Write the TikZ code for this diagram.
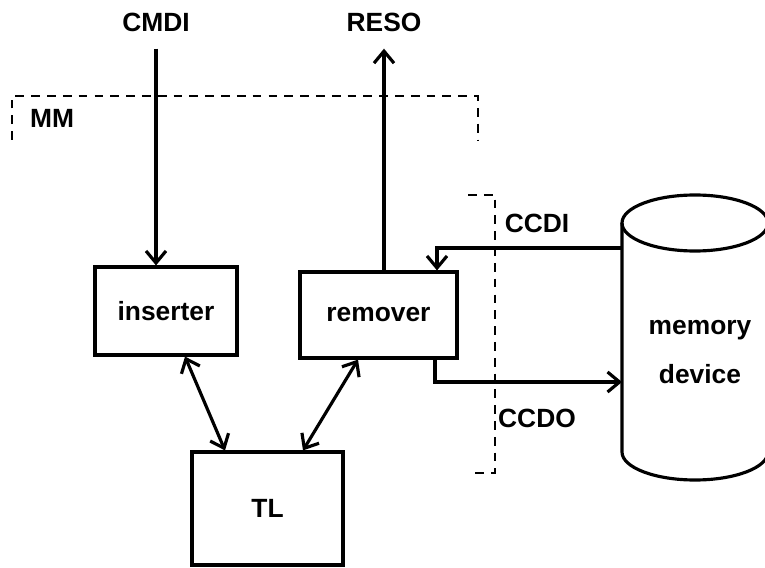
\documentclass[tikz,border=0pt]{standalone}
\usepackage{fontspec}
\setmainfont{Liberation Sans}
\usepackage{tikz}
\usetikzlibrary{arrows.meta, positioning, calc}

\begin{document}
\begin{tikzpicture}[
    font=\fontsize{15}{17}\selectfont\bfseries,
    block/.style={rectangle, draw=black, line width=1.8pt, align=center},
    label/.style={inner sep=2pt},
    line/.style={draw=black, line width=1.8pt, -{Straight Barb[length=2.4mm, width=4mm, line width=1.8pt]}},
    dline/.style={draw=black, line width=1.8pt, {Straight Barb[length=2.4mm, width=4mm, line width=1.8pt]}-{Straight Barb[length=2.4mm, width=4mm, line width=1.8pt]}},
    boundary/.style={draw=black, line width=1.5pt, dash pattern=on 5pt off 4pt}
]
    \useasboundingbox (0,0) rectangle (15.3,11.34);

    \node[block, minimum width=2.84cm, minimum height=1.76cm] (inserter) at (3.32,5.12) {inserter};
    \node[block, minimum width=3.14cm, minimum height=1.72cm] (remover) at (7.57,5.04) {remover};
    \node[block, minimum width=3.02cm, minimum height=2.26cm] (tl) at (5.35,1.17) {TL};

    \node[label] (cmdi) at (3.12,10.9) {CMDI};
    \node[label] (reso) at (7.68,10.9) {RESO};
    \node[label] (mm) at (1.04,8.98) {MM};
    \node[label] (ccdi) at (10.74,6.88) {CCDI};
    \node[label] (ccdo) at (10.74,2.98) {CCDO};

    % memory device
    \coordinate (cyltop) at (13.9,6.88);
    \coordinate (cylbot) at (13.9,2.30);
    \draw[line width=1.8pt] (cyltop) ellipse (1.46 and 0.56);
    \draw[line width=1.8pt] ([xshift=-1.46cm]cyltop) -- ([xshift=-1.46cm]cylbot)
        arc (180:360:1.46 and 0.56) -- ([xshift=1.46cm]cyltop);
    \node[align=center, font=\fontsize{15}{28}\selectfont\bfseries] (memory) at (14.0,4.3) {memory\\device};
    \coordinate (cyl-in) at (12.44,6.38);
    \coordinate (cyl-out) at (12.44,3.70);

    % boundaries
    \draw[boundary] (0.24,8.54) -- (0.24,9.42) -- (9.56,9.42) -- (9.56,8.54);
    \draw[boundary] (9.36,7.44) -- (9.90,7.44) -- (9.90,1.88) -- (9.36,1.88);

    % Connectors
    \draw[line] ([yshift=-0.27cm]cmdi.south) -- (cmdi |- inserter.north);
    \draw[line] (reso |- remover.north) -- ([yshift=-0.27cm]reso.south);
    \draw[line] (cyl-in) -| ([xshift=1.17cm]remover.north);
    \draw[line] ([xshift=1.13cm]remover.south) |- (cyl-out);
    \draw[dline] ([xshift=0.38cm]inserter.south) -- ([xshift=-0.85cm]tl.north);
    \draw[dline] ([xshift=-0.41cm]remover.south) -- ([xshift=0.71cm]tl.north);
\end{tikzpicture}
\end{document}
